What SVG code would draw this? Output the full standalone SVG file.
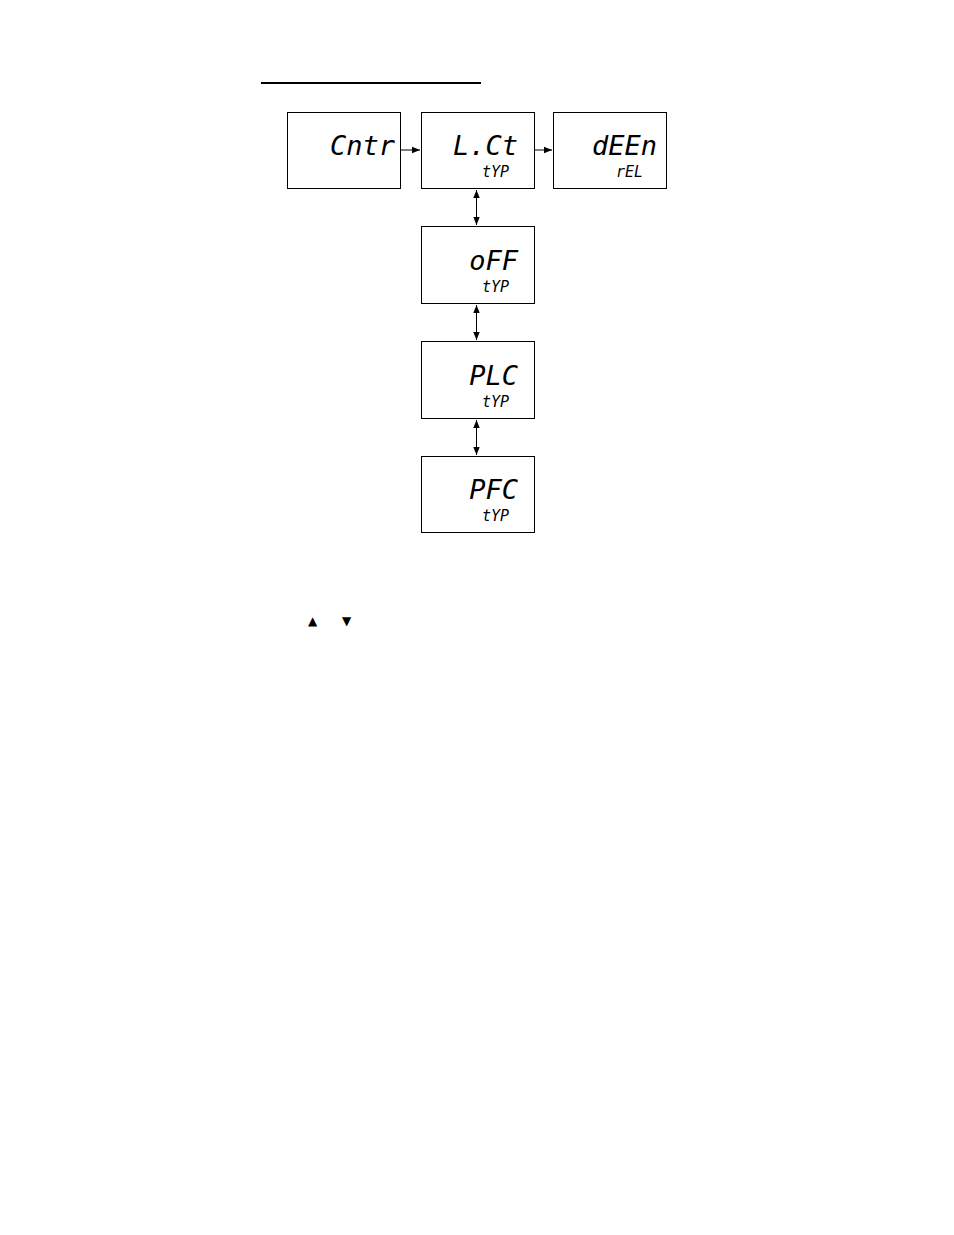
<svg xmlns="http://www.w3.org/2000/svg" width="954" height="1235" viewBox="0 0 954 1235">
<style>
.b{fill:#fff;stroke:#000;stroke-width:1}
.m{font-family:"DejaVu Sans Mono",monospace;font-size:27px;font-style:oblique;text-anchor:end;fill:#000}
.s{font-family:"DejaVu Sans Mono",monospace;font-size:15px;font-style:oblique;text-anchor:end;fill:#000}
.c{stroke:#000;stroke-width:1;fill:none}
.t{font-family:"DejaVu Sans",sans-serif;font-size:12px;fill:#000}
</style>
<defs>
<marker id="a" viewBox="0 0 10 10" refX="10" refY="5" markerWidth="8" markerHeight="8" orient="auto-start-reverse"><path d="M0,1 L10,5 L0,9 z" fill="#000"/></marker>
</defs>
<line x1="261" y1="83" x2="481" y2="83" stroke="#000" stroke-width="2"/>
<g id="n1"><rect class="b" x="287.5" y="112.5" width="113" height="76"/><text class="m" x="395" y="155">Cntr</text></g>
<g id="n2"><rect class="b" x="421.5" y="112.5" width="113" height="76"/><text class="m" x="518" y="155">L.Ct</text><text class="s" x="509" y="177">tYP</text></g>
<g id="n3"><rect class="b" x="553.5" y="112.5" width="113" height="76"/><text class="m" x="657" y="155">dEEn</text><text class="s" x="643" y="177">rEL</text></g>
<g id="n4"><rect class="b" x="421.5" y="226.5" width="113" height="77"/><text class="m" x="518" y="270">oFF</text><text class="s" x="509" y="292">tYP</text></g>
<g id="n5"><rect class="b" x="421.5" y="341.5" width="113" height="77"/><text class="m" x="518" y="385">PLC</text><text class="s" x="509" y="407">tYP</text></g>
<g id="n6"><rect class="b" x="421.5" y="456.5" width="113" height="76"/><text class="m" x="518" y="499">PFC</text><text class="s" x="509" y="521">tYP</text></g>
<g id="connectors">
<line class="c" x1="401" y1="150" x2="420" y2="150" marker-end="url(#a)"/>
<line class="c" x1="535" y1="150" x2="552" y2="150" marker-end="url(#a)"/>
<line class="c" x1="476.5" y1="190" x2="476.5" y2="225" marker-start="url(#a)" marker-end="url(#a)"/>
<line class="c" x1="476.5" y1="305" x2="476.5" y2="340" marker-start="url(#a)" marker-end="url(#a)"/>
<line class="c" x1="476.5" y1="420" x2="476.5" y2="455" marker-start="url(#a)" marker-end="url(#a)"/>
</g>
<text class="t" x="308" y="625">▲</text>
<text class="t" x="342" y="625">▼</text>
</svg>
